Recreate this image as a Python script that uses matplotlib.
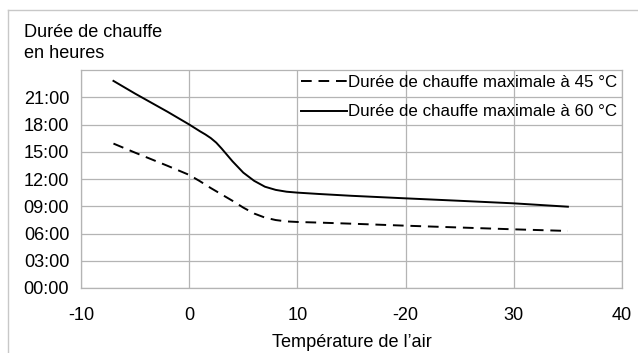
import matplotlib.pyplot as plt
from matplotlib.lines import Line2D

# air temperature (deg C) and heating duration (hours)
temp_60 = [-7, -5, -2, 0, 1, 1.5, 2, 2.5, 3, 4, 5, 6, 7, 8, 9, 10, 12, 15, 20, 25, 30, 35]
hours_60 = [22.8, 21.4, 19.4, 18.0, 17.25, 16.9, 16.5, 16.0, 15.35, 13.95, 12.7, 11.8,
            11.15, 10.8, 10.6, 10.5, 10.35, 10.15, 9.87, 9.6, 9.32, 8.95]

temp_45 = [-7, -5, -2, 0, 1, 2, 3, 4, 5, 6, 7, 8, 9, 10, 12, 15, 20, 25, 30, 35]
hours_45 = [15.9, 14.9, 13.45, 12.45, 11.75, 11.0, 10.3, 9.6, 8.85, 8.2, 7.75,
            7.48, 7.33, 7.27, 7.2, 7.08, 6.86, 6.66, 6.46, 6.28]

x_ticks = [-10, 0, 10, 20, 30, 40]
x_labels = ['-10', '0', '10', '-20', '30', '40']
y_ticks = [0, 3, 6, 9, 12, 15, 18, 21]
y_labels = ['00:00', '03:00', '06:00', '09:00', '12:00', '15:00', '18:00', '21:00']

label_45 = 'Durée de chauffe maximale à 45 °C'
label_60 = 'Durée de chauffe maximale à 60 °C'

plt.rcParams['font.family'] = ['Liberation Sans', 'DejaVu Sans']
fs = 13.1
fs_leg = 12.2
grey = '#b4b4b4'

fig = plt.figure(figsize=(6.38, 3.53), dpi=100)
ax = fig.add_axes([81 / 638, 1 - 288 / 353, (622 - 81) / 638, (288 - 70) / 353])

ax.plot(temp_45, hours_45, color='black', lw=1.4, dashes=(5.5, 3.5), label=label_45)
ax.plot(temp_60, hours_60, color='black', lw=1.4, label=label_60)

ax.set_xlim(-10, 40)
ax.set_ylim(0, 24)
ax.set_xticks(x_ticks)
ax.set_xticklabels(x_labels)
ax.set_yticks(y_ticks)
ax.set_yticklabels(y_labels)
ax.tick_params(axis='both', length=0, labelsize=fs)
ax.tick_params(axis='x', pad=14)
ax.tick_params(axis='y', pad=8.5)
ax.grid(True, color=grey, lw=0.9)
ax.set_axisbelow(True)
for s in ax.spines.values():
    s.set_color(grey)
    s.set_linewidth(0.9)

ax.set_xlabel("Température de l’air", fontsize=fs, labelpad=7)

leg = ax.legend(loc='upper right', bbox_to_anchor=(1.0, 1.0), frameon=False,
                fontsize=fs_leg, handlelength=2.7, handletextpad=0.05,
                borderaxespad=0, borderpad=0.3, labelspacing=0.85)

fig.text(24 / 638, 1 - 24 / 353, 'Durée de chauffe\nen heures', fontsize=fs,
         ha='left', va='top', linespacing=1.3)

# light outer frame (top and left only)
fig.add_artist(Line2D([8 / 638, 8 / 638], [0, 1 - 10 / 353], transform=fig.transFigure,
                      color='#c8c8c8', lw=1))
fig.add_artist(Line2D([8 / 638, 637 / 638], [1 - 10 / 353, 1 - 10 / 353],
                      transform=fig.transFigure, color='#c8c8c8', lw=1))

fig.savefig('out.png', dpi=100)
